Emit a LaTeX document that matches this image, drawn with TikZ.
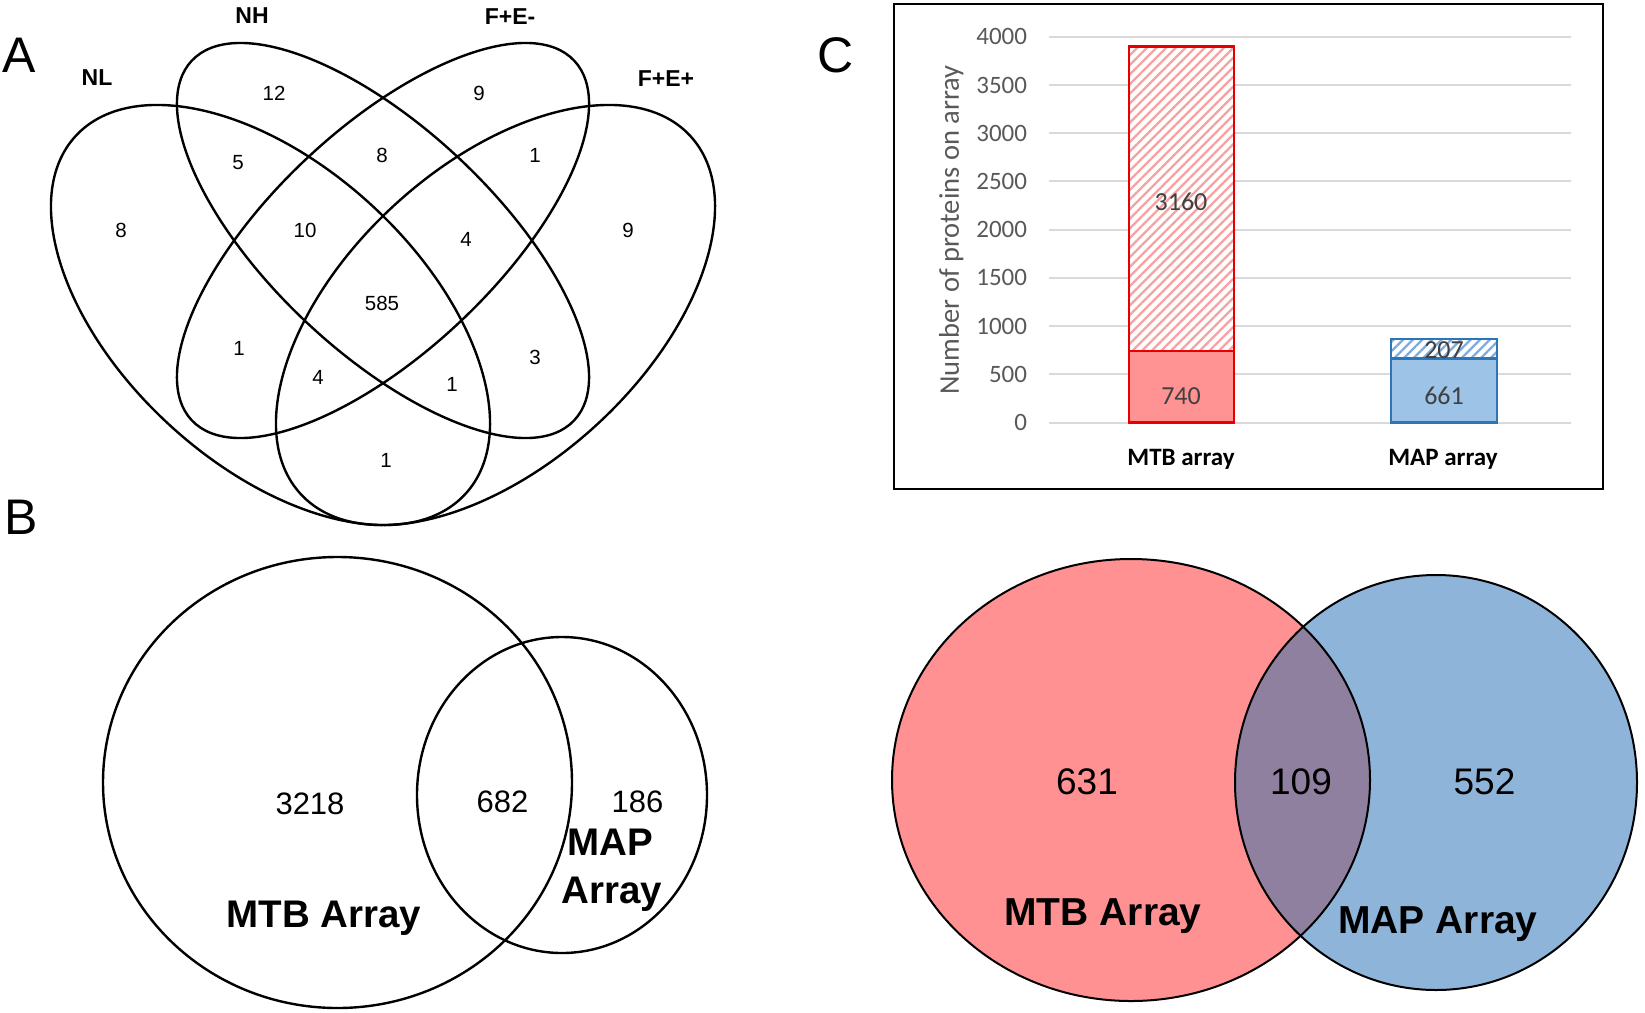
\documentclass[tikz,border=0pt]{standalone}
\usepackage{fontspec}
\setmainfont{Liberation Sans}
\newfontfamily\calfont{Carlito}
\usetikzlibrary{patterns.meta}
\definecolor{mtbfill}{RGB}{255,147,147}
\definecolor{mtbedge}{RGB}{232,0,0}
\definecolor{mtbhatch}{RGB}{246,162,162}
\definecolor{mapfill}{RGB}{157,195,230}
\definecolor{mapedge}{RGB}{46,117,182}
\definecolor{maphatch}{RGB}{125,172,222}
\definecolor{vred}{RGB}{255,145,146}
\definecolor{vblue}{RGB}{143,180,218}
\definecolor{vpurple}{RGB}{144,128,160}
\definecolor{gridgray}{RGB}{217,217,217}
\definecolor{ticktext}{RGB}{89,89,89}
\definecolor{bartext}{RGB}{64,64,64}
\newcommand{\fsz}[1]{\fontsize{#1pt}{#1pt}\selectfont}
\begin{document}
\begin{tikzpicture}[x=1pt,y=-1pt,
  every node/.style={inner sep=0pt, outer sep=0pt, text depth=0pt},
  vline/.style={line width=2.4pt},
  panellab/.style={font=\fsz{50}},
  setlab/.style={font=\bfseries\fsz{23}},
  anum/.style={font=\fsz{20.5}},
  bnum/.style={font=\fsz{31}},
  blab/.style={font=\bfseries\fsz{38.5}},
  cnum/.style={font=\fsz{37}},
  clab/.style={font=\bfseries\fsz{39}},
  tick/.style={font=\calfont\fsz{25}, text=ticktext, anchor=east},
  barnum/.style={font=\calfont\fsz{26}, text=bartext},
  catlab/.style={font=\calfont\bfseries\fsz{25}},
  gridline/.style={draw=gridgray, line width=2pt},
  hatchred/.style={pattern={Lines[angle=45,distance=6.8pt,line width=2.3pt]}, pattern color=mtbhatch},
  hatchblue/.style={pattern={Lines[angle=45,distance=6.8pt,line width=2.3pt]}, pattern color=maphatch}
]
\useasboundingbox (0,0) rectangle (1645,1012);
\fill[white] (0,0) rectangle (1645,1012);

% ---------------- Panel A ----------------
\node[panellab] (labA) at (19,55) {A};
\draw[vline, rotate around={-42.55:(270.5,315)}] (270.5,315) ellipse [x radius=264.6pt, y radius=149.3pt];
\draw[vline, rotate around={42.55:(495.5,315)}] (495.5,315) ellipse [x radius=264.6pt, y radius=149.3pt];
\draw[vline, rotate around={-43.25:(383,240.5)}] (383,240.5) ellipse [x radius=262.5pt, y radius=112pt];
\draw[vline, rotate around={43.25:(383,240.5)}] (383,240.5) ellipse [x radius=262.5pt, y radius=112pt];

\node[setlab] (sNL) at (97,78) {NL};
\node[setlab] (sNH) at (252,15.5) {NH};
\node[setlab] (sFEm) at (510,17) {F+E-};
\node[setlab] (sFEp) at (666,79) {F+E+};

\node[anum] (a12) at (274,93) {12};
\node[anum] (a9a) at (479,93) {9};
\node[anum] (a5) at (238,162) {5};
\node[anum] (a8b) at (382,155) {8};
\node[anum] (a1a) at (535,155) {1};
\node[anum] (a8a) at (121,230) {8};
\node[anum] (a10) at (305,230) {10};
\node[anum] (a4a) at (466,239) {4};
\node[anum] (a9b) at (628,230) {9};
\node[anum] (a585) at (382,303) {585};
\node[anum] (a1b) at (239,348) {1};
\node[anum] (a3) at (535,357) {3};
\node[anum] (a4b) at (318,377) {4};
\node[anum] (a1c) at (452,384) {1};
\node[anum] (a1d) at (386,460) {1};

% ---------------- Panel B ----------------
\node[panellab] (labB) at (21,517) {B};
\draw[vline] (337.5,782.5) ellipse [x radius=234.5pt, y radius=225.5pt];
\draw[vline] (562,795) ellipse [x radius=145pt, y radius=158pt];
\node[bnum] (b3218) at (310,804) {3218};
\node[bnum] (b682) at (502.5,802) {682};
\node[bnum] (b186) at (637.5,802) {186};
\node[blab] (bmap1) at (610.5,842) {MAP};
\node[blab] (bmap2) at (612,890) {Array};
\node[blab] (bmtb) at (324,914.5) {MTB Array};

% ---------------- Panel C chart ----------------
\node[panellab] (labC) at (836,55) {C};
\draw[line width=2pt] (894,4) rectangle (1603,489);
\foreach \v in {0,500,...,4000} {
  \draw[gridline] (1049,{422.5-\v*0.09645}) -- (1571,{422.5-\v*0.09645});
  \node[tick] (t\v) at (1027,{422.5-\v*0.09645}) {\v};
}
% MTB bar
\fill[mtbfill] (1129,422.5) rectangle (1234,351.1);
\fill[white] (1129,351.1) rectangle (1234,46.3);
\fill[hatchred] (1129,351.1) rectangle (1234,46.3);
\draw[mtbedge, line width=2.5pt] (1129,422.5) rectangle (1234,351.1);
\draw[mtbedge, line width=2.5pt] (1129,351.1) rectangle (1234,46.3);
% MAP bar
\fill[mapfill] (1391,422.5) rectangle (1497,358.7);
\fill[white] (1391,358.7) rectangle (1497,338.8);
\fill[hatchblue] (1391,358.7) rectangle (1497,338.8);
\draw[mapedge, line width=2.5pt] (1391,422.5) rectangle (1497,358.7);
\draw[mapedge, line width=2.5pt] (1391,358.7) rectangle (1497,338.8);

\node[barnum] (n3160) at (1181,202) {3160};
\node[barnum] (n740) at (1181,396) {740};
\node[barnum] (n207) at (1444,350) {207};
\node[barnum] (n661) at (1444,396) {661};
\node[catlab] (cmtb) at (1181,457) {MTB array};
\node[catlab] (cmap) at (1443,457) {MAP array};
\node[font=\calfont\fsz{28.5}, text=ticktext, rotate=90] (ytitle) at (949,230) {Number of proteins on array};

% ---------------- Bottom-right Venn ----------------
\fill[vred] (1131,780) ellipse [x radius=239pt, y radius=221pt];
\fill[vblue] (1436,782.5) ellipse [x radius=201pt, y radius=207.5pt];
\begin{scope}
  \clip (1131,780) ellipse [x radius=239pt, y radius=221pt];
  \fill[vpurple] (1436,782.5) ellipse [x radius=201pt, y radius=207.5pt];
\end{scope}
\draw[line width=2pt] (1131,780) ellipse [x radius=239pt, y radius=221pt];
\draw[line width=2pt] (1436,782.5) ellipse [x radius=201pt, y radius=207.5pt];
\node[cnum] (c631) at (1087,781.5) {631};
\node[cnum] (c109) at (1301,781.5) {109};
\node[cnum] (c552) at (1484.5,781.5) {552};
\node[clab] (cvmtb) at (1103,912.5) {MTB Array};
\node[clab] (cvmap) at (1438,920) {MAP Array};
\end{tikzpicture}
\end{document}
